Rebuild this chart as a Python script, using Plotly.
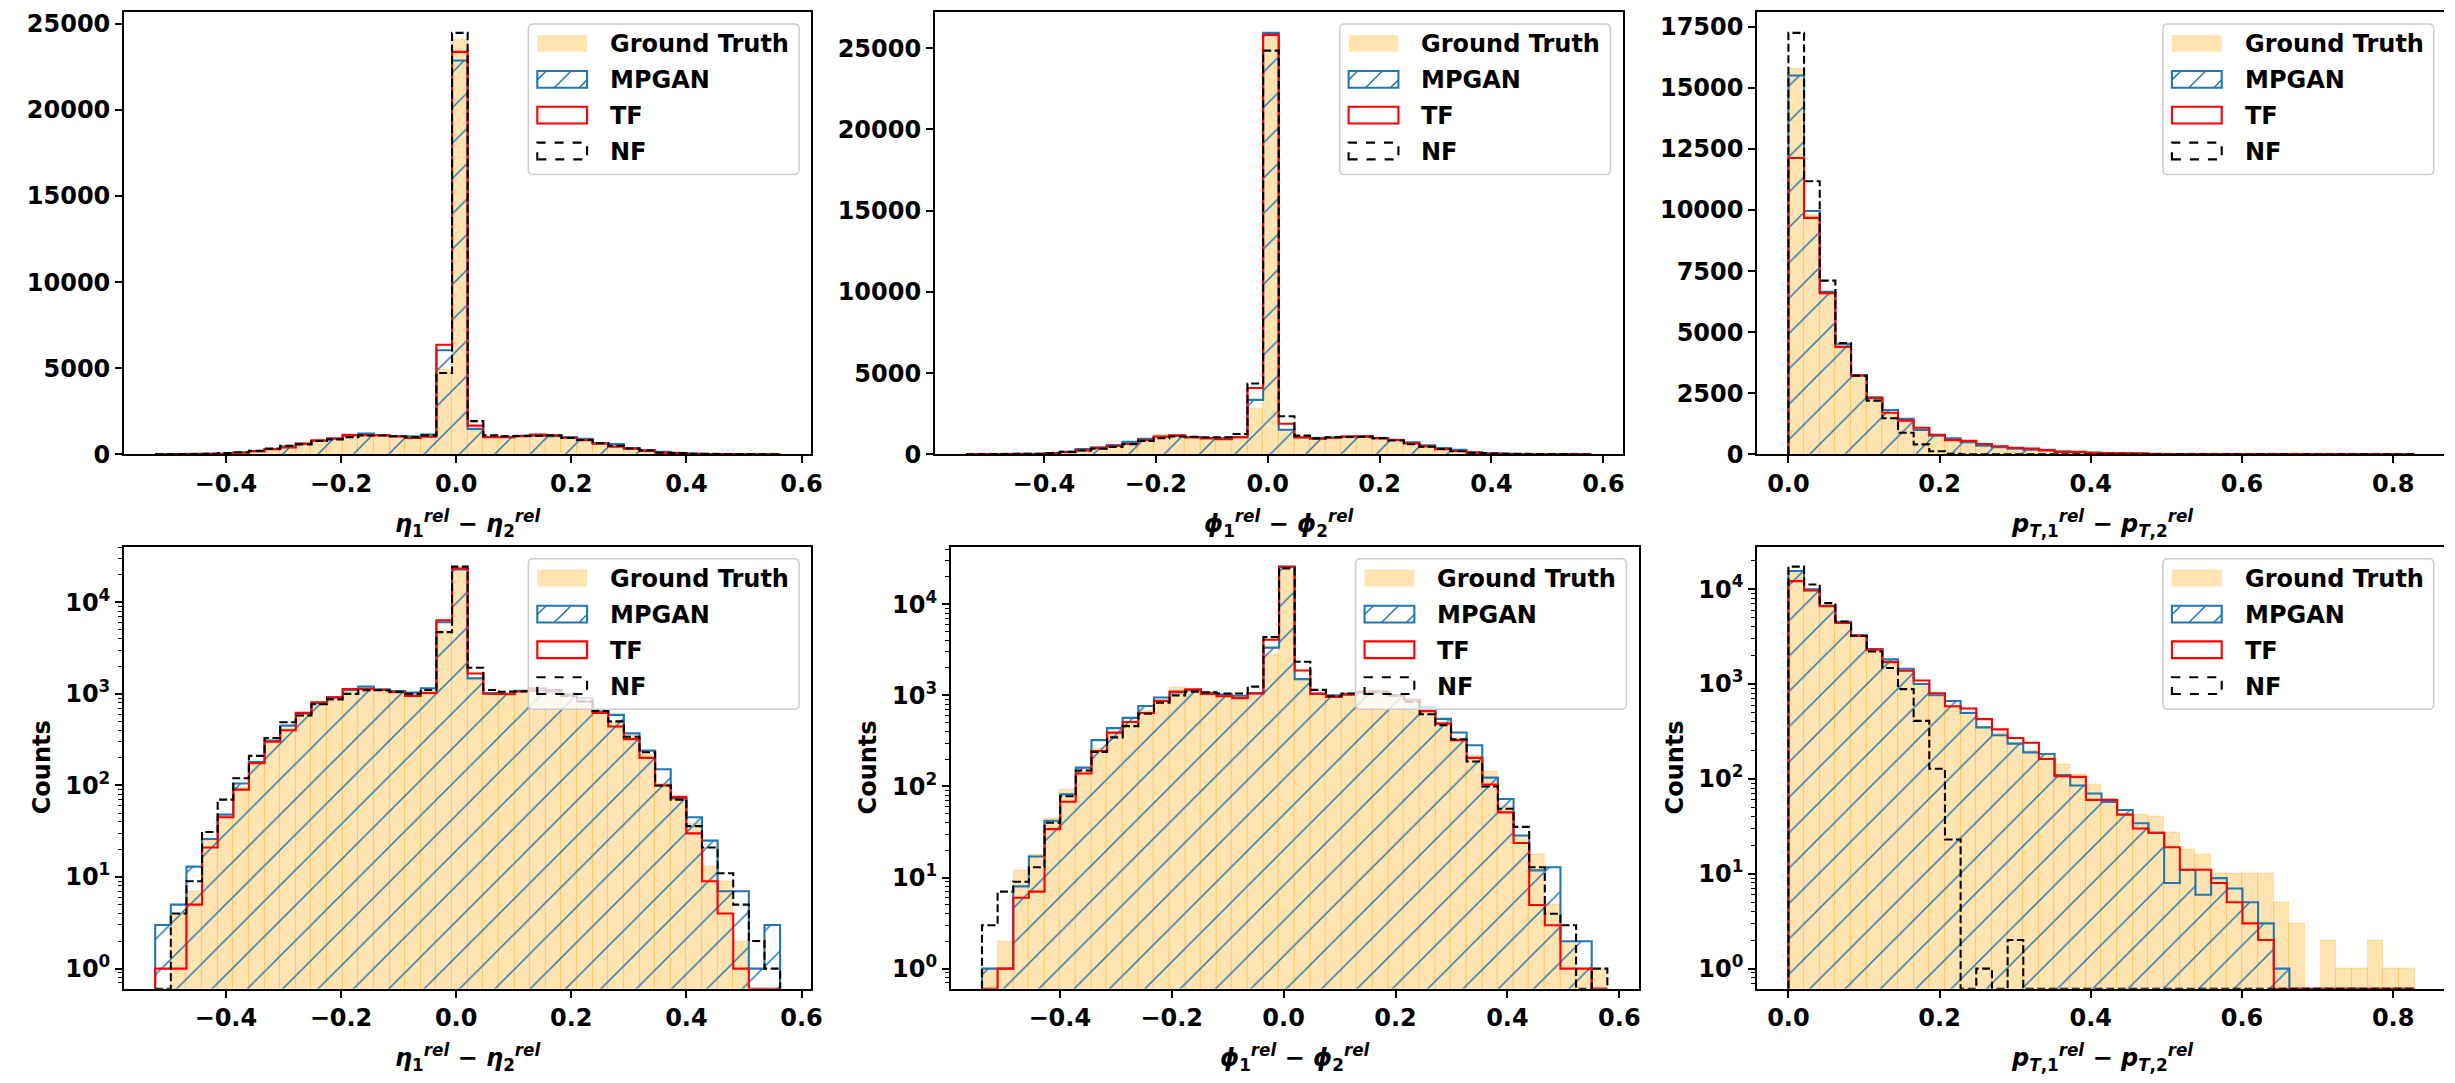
import numpy as np
import plotly.graph_objects as go

W, H = 2455, 1083

# ---------------- data ----------------
N_BINS = 40
eta_lims = (-0.5228, 0.5628)
phi_lims = (-0.5390, 0.5786)
pt_lims = (0.0, 0.8285)

eta_gt = [0, 4, 7, 25, 45, 95, 175, 300, 420, 600, 790, 900, 1050, 1100, 1080, 1040, 980, 1050, 4920, 24050,
          1380, 1000, 1000, 1050, 1100, 1050, 980, 850, 620, 480, 350, 220, 105, 72, 38, 13, 9, 2, 0, 0]
eta_mpgan = [3, 5, 13, 26, 48, 105, 180, 310, 450, 610, 790, 920, 1100, 1200, 1120, 1070, 1030, 1150, 6040, 22870,
             1476, 1020, 1000, 1080, 1100, 1050, 1000, 900, 640, 590, 370, 240, 150, 72, 45, 25, 7, 7, 1, 3]
eta_tf = [1, 1, 5, 21, 45, 90, 175, 300, 400, 620, 810, 910, 1130, 1130, 1100, 1040, 950, 1020, 6360, 23370,
          1670, 1000, 990, 1060, 1150, 1100, 960, 820, 620, 440, 320, 200, 100, 75, 30, 9, 4, 1, 0, 0]
eta_nf = [0, 4, 9, 31, 70, 120, 210, 330, 490, 580, 770, 870, 1000, 1100, 1090, 1050, 1000, 1100, 4720, 24470,
          1930, 1100, 1050, 1070, 1080, 1100, 950, 830, 650, 500, 340, 230, 100, 70, 36, 21, 11, 5, 2, 1]

phi_gt = [1, 2, 12, 18, 45, 92, 145, 260, 380, 520, 680, 880, 1230, 1100, 1080, 1000, 980, 1050, 2830, 25900,
          1465, 1050, 990, 1050, 1080, 1100, 1000, 850, 680, 500, 340, 220, 146, 60, 28, 18, 5, 2, 1, 1]
phi_mpgan = [1, 1, 8, 17, 42, 82, 161, 323, 437, 566, 766, 950, 1080, 1140, 1070, 1020, 990, 1060, 3350, 25940,
             1510, 1050, 1000, 1040, 1080, 1080, 1000, 900, 746, 552, 391, 284, 125, 73, 29, 12, 13, 2, 2, 0]
phi_tf = [0, 1, 6, 7, 34, 68, 139, 245, 390, 510, 640, 870, 1100, 1170, 1040, 980, 933, 1050, 4080, 25820,
          1880, 1040, 960, 1020, 1100, 1120, 1000, 887, 673, 490, 323, 206, 105, 52, 24, 5, 3, 1, 1, 0]
phi_nf = [3, 7, 9, 13, 40, 78, 150, 240, 346, 460, 628, 830, 1000, 1100, 1080, 1050, 1050, 1250, 4360, 24850,
          2345, 1150, 980, 1050, 1080, 1090, 1000, 850, 620, 470, 330, 188, 100, 57, 36, 13, 4, 3, 0, 1]

pt_gt = [15760, 9800, 6530, 4480, 3220, 2200, 1700, 1350, 980, 750, 560, 500, 360, 300, 240, 200, 170, 143, 111, 87,
         60, 43, 42, 40, 27, 18, 16, 10, 10, 10, 10, 5, 3, 0, 2, 1, 1, 2, 1, 1]
pt_mpgan = [15510, 9960, 6650, 4520, 3230, 2330, 1815, 1450, 1000, 760, 661, 494, 349, 288, 235, 190, 183, 110, 85, 70,
            57, 47, 34, 27, 8, 11, 6, 9, 7, 5, 3, 1, 0, 0, 0, 0, 0, 0, 0, 0]
pt_tf = [12130, 9680, 6600, 4400, 3230, 2300, 1700, 1380, 1090, 800, 583, 551, 426, 332, 270, 240, 162, 107, 105, 60,
         60, 42, 30, 27, 19, 11, 11, 8, 5, 3, 2, 0, 0, 0, 0, 0, 0, 0, 0, 0]
pt_nf = [17250, 11180, 7110, 4560, 3220, 2200, 1475, 883, 409, 128, 23, 0, 1, 0, 2, 0, 0, 0, 0, 0,
         0, 0, 0, 0, 0, 0, 0, 0, 0, 0, 0, 0, 0, 0, 0, 0, 0, 0, 0, 0]

series_names = ["Ground Truth", "MPGAN", "TF", "NF"]
eta_label = "<i>η</i><sub>1</sub><sup><i>rel</i></sup> − <i>η</i><sub>2</sub><sup><i>rel</i></sup>"
phi_label = "<i>ϕ</i><sub>1</sub><sup><i>rel</i></sup> − <i>ϕ</i><sub>2</sub><sup><i>rel</i></sup>"
pt_label = "<i>p</i><sub><i>T</i>,1</sub><sup><i>rel</i></sup> − <i>p</i><sub><i>T</i>,2</sub><sup><i>rel</i></sup>"
eta_xticks = [-0.4, -0.2, 0.0, 0.2, 0.4, 0.6]
pt_xticks = [0.0, 0.2, 0.4, 0.6, 0.8]
lin_yticks_big = [0, 5000, 10000, 15000, 20000, 25000]
lin_yticks_pt = [0, 2500, 5000, 7500, 10000, 12500, 15000, 17500]
log_yticks = [1, 10, 100, 1000, 10000]

# ---------------- style ----------------
FONT = "DejaVu Sans"
GT_COLOR = "rgba(255,165,0,0.3)"
MPGAN_COLOR = "#1f77b4"
TF_COLOR = "#ff0000"
NF_COLOR = "#000000"
LW = 2.1
SPINE = 1.67

datasets = [
    (eta_lims, [eta_gt, eta_mpgan, eta_tf, eta_nf], eta_label, eta_xticks),
    (phi_lims, [phi_gt, phi_mpgan, phi_tf, phi_nf], phi_label, eta_xticks),
    (pt_lims, [pt_gt, pt_mpgan, pt_tf, pt_nf], pt_label, pt_xticks),
]

# axes boxes in pixels: (left, right, top, bottom)
boxes = [
    (124.5, 815.0, 11.0, 459.7),
    (939.0, 1630.0, 11.0, 459.7),
    (1765.0, 2457.0, 11.0, 459.7),
    (124.5, 815.0, 553.2, 1001.6),
    (955.0, 1646.0, 553.2, 1001.6),
    (1765.0, 2457.0, 553.2, 1001.6),
]
counts_x = [41.8, 871.7, 1682.3]

fig = go.Figure()
layout = dict(width=W, height=H, margin=dict(l=0, r=0, t=0, b=0),
              paper_bgcolor="white", plot_bgcolor="white", showlegend=False,
              font=dict(family=FONT, size=24, color="black", weight="bold"),
              barmode="overlay", bargap=0)
shapes, annotations = [], []


def px2x(px):
    return px / W


def px2y(py):
    return 1 - py / H


def step_xy(edges, counts, base):
    xs, ys = [edges[0]], [base]
    for i, v in enumerate(counts):
        v = v if v > 0 else base
        xs += [edges[i], edges[i + 1]]
        ys += [v, v]
    xs.append(edges[-1])
    ys.append(base)
    return xs, ys


for k in range(1, 7):
    row = 0 if k <= 3 else 1
    col = (k - 1) % 3
    lims, sers, xlabel, xticks = datasets[col]
    is_log = row == 1
    edges = np.linspace(lims[0], lims[1], N_BINS + 1)
    centers = 0.5 * (edges[:-1] + edges[1:])
    bw = edges[1] - edges[0]
    left, right, top, bottom = boxes[k - 1]
    xa_name = "x" if k == 1 else f"x{k}"
    ya_name = "y" if k == 1 else f"y{k}"

    # ranges
    span = lims[1] - lims[0]
    xr = [lims[0] - 0.05 * span, lims[1] + 0.05 * span]
    r_px = min(right, W)
    xr_vis = [xr[0], xr[0] + (r_px - left) / (right - left) * (xr[1] - xr[0])]
    ymax = max(max(s) for s in sers)
    if is_log:
        L = np.log10(ymax)
        yr = [-0.05 * L, 1.05 * L]
        base = 10 ** yr[0]
    else:
        yr = [0, 1.05 * ymax]
        base = 0

    gt, mp, tf, nf = sers
    gt_y = [(v if v > 0 else None) for v in gt] if is_log else gt
    fig.add_trace(go.Bar(x=centers, y=gt_y, width=bw, xaxis=xa_name, yaxis=ya_name,
                         marker=dict(color=GT_COLOR, line=dict(color="rgba(255,165,0,0.25)", width=1)),
                         name="Ground Truth"))
    xs, ys = step_xy(edges, mp, base)
    fig.add_trace(go.Scatter(x=xs, y=ys, mode="lines", fill="toself", xaxis=xa_name, yaxis=ya_name,
                             line=dict(width=0, color="rgba(0,0,0,0)"), fillcolor="rgba(0,0,0,0)",
                             fillpattern=dict(shape="/", fgcolor=MPGAN_COLOR, bgcolor="rgba(0,0,0,0)",
                                              size=25, solidity=0.06, fgopacity=1),
                             hoverinfo="skip"))
    fig.add_trace(go.Scatter(x=xs, y=ys, mode="lines", xaxis=xa_name, yaxis=ya_name,
                             line=dict(width=LW, color=MPGAN_COLOR), name="MPGAN"))
    xs, ys = step_xy(edges, tf, base)
    fig.add_trace(go.Scatter(x=xs, y=ys, mode="lines", xaxis=xa_name, yaxis=ya_name,
                             line=dict(width=LW, color=TF_COLOR), name="TF"))
    xs, ys = step_xy(edges, nf, base)
    fig.add_trace(go.Scatter(x=xs, y=ys, mode="lines", xaxis=xa_name, yaxis=ya_name,
                             line=dict(width=LW, color=NF_COLOR, dash="8px,3.5px"), name="NF"))

    axis_common = dict(showline=True, linecolor="black", linewidth=SPINE, ticks="outside",
                       ticklen=7, tickwidth=SPINE, tickcolor="black", showgrid=False, zeroline=False,
                       tickfont=dict(family=FONT, size=24, weight="bold"))
    xaxis = dict(axis_common, domain=[px2x(left), px2x(r_px)], range=xr_vis, anchor=ya_name,
                 mirror=True, tickvals=xticks, tickformat=".1f")
    yaxis = dict(axis_common, domain=[px2y(bottom), px2y(top)], anchor=xa_name,
                 mirror=(r_px == right))
    if is_log:
        minors = [m * 10 ** d for d in range(-1, 6) for m in range(2, 10)
                  if yr[0] <= np.log10(m * 10 ** d) <= yr[1]]
        yaxis.update(type="log", range=yr, tickvals=log_yticks,
                     ticktext=[f"10<sup>{int(np.log10(v))}</sup>" for v in log_yticks],
                     minor=dict(tickvals=minors, ticks="outside", ticklen=4, tickwidth=1.2,
                                tickcolor="black"))
    else:
        yaxis.update(range=yr, tickvals=lin_yticks_pt if col == 2 else lin_yticks_big, tickformat="d")
    layout["xaxis" if k == 1 else f"xaxis{k}"] = xaxis
    layout["yaxis" if k == 1 else f"yaxis{k}"] = yaxis

    # x label
    annotations.append(dict(x=px2x((left + right) / 2), y=px2y(bottom + 70), xref="paper", yref="paper",
                            text=xlabel, showarrow=False, xanchor="center", yanchor="middle",
                            font=dict(family=FONT, size=24, weight="bold")))
    if is_log:
        annotations.append(dict(x=px2x(counts_x[col]), y=px2y((top + bottom) / 2), xref="paper", yref="paper",
                                text="Counts", textangle=-90, showarrow=False, xanchor="center",
                                yanchor="middle", font=dict(family=FONT, size=24, weight="bold")))

    # ---- legend (drawn manually to match matplotlib's) ----
    fr_r = right - 12.3
    fr_t = top + 12.4
    fr_l = fr_r - 272
    fr_b = fr_t + 152.6
    rx, ry = 5 / W, 5 / H
    X0, X1, Y0, Y1 = px2x(fr_l), px2x(fr_r), px2y(fr_t), px2y(fr_b)
    path = (f"M{X0 + rx},{Y0} L{X1 - rx},{Y0} Q{X1},{Y0} {X1},{Y0 - ry} L{X1},{Y1 + ry} "
            f"Q{X1},{Y1} {X1 - rx},{Y1} L{X0 + rx},{Y1} Q{X0},{Y1} {X0},{Y1 + ry} "
            f"L{X0},{Y0 - ry} Q{X0},{Y0} {X0 + rx},{Y0} Z")
    shapes.append(dict(type="path", path=path, xref="paper", yref="paper", layer="above",
                       fillcolor="rgba(255,255,255,0.8)", line=dict(color="#cccccc", width=1.5)))
    row_tops = [11.0, 47.6, 83.8, 120.2]
    ph = 17.0
    pl, pr = fr_l + 9, fr_l + 59
    for i, nm in enumerate(series_names):
        t = fr_t + row_tops[i]
        b = t + ph
        if i == 0:
            shapes.append(dict(type="rect", xref="paper", yref="paper", layer="above",
                               x0=px2x(pl), x1=px2x(pr), y0=px2y(b), y1=px2y(t),
                               fillcolor=GT_COLOR, line=dict(width=0)))
        else:
            col_ = [MPGAN_COLOR, TF_COLOR, NF_COLOR][i - 1]
            dash = "dash" if i == 3 else "solid"
            if i == 1:
                for a in [-8, 17, 42]:
                    x_start, y_start = pl + a, b
                    x_end, y_end = pl + a + ph, t
                    if x_start < pl:
                        y_start = b - (pl - x_start)
                        x_start = pl
                    if x_end > pr:
                        y_end = t + (x_end - pr)
                        x_end = pr
                    shapes.append(dict(type="line", xref="paper", yref="paper", layer="above",
                                       x0=px2x(x_start), y0=px2y(y_start), x1=px2x(x_end), y1=px2y(y_end),
                                       line=dict(color=col_, width=1.5)))
            shapes.append(dict(type="rect", xref="paper", yref="paper", layer="above",
                               x0=px2x(pl), x1=px2x(pr), y0=px2y(b), y1=px2y(t),
                               fillcolor="rgba(0,0,0,0)", line=dict(color=col_, width=LW, dash=dash)))
        annotations.append(dict(x=px2x(fr_l + 80), y=px2y((t + b) / 2 + 1), xref="paper", yref="paper",
                                text=nm, showarrow=False, xanchor="left", yanchor="middle",
                                font=dict(family=FONT, size=24, weight="bold")))

layout["shapes"] = shapes
layout["annotations"] = annotations
fig.update_layout(**layout)
fig.write_html("out.html")
